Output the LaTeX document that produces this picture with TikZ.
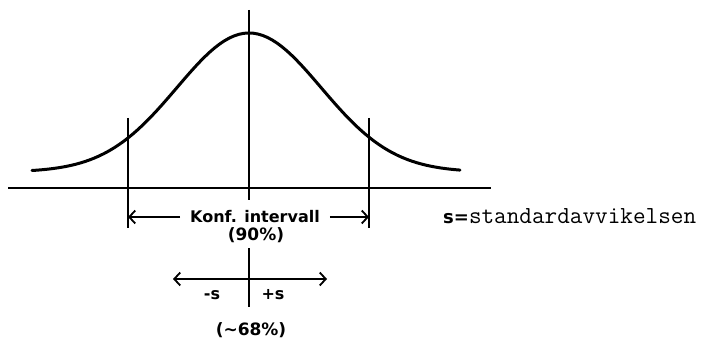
\documentclass[tikz,border=0pt]{standalone}
\usepackage{fontspec}
\setmainfont{DejaVu Sans}
\usetikzlibrary{arrows.meta}

\tikzset{
  lettering/.style={font=\fontsize{16}{18}\selectfont\bfseries, inner sep=1pt},
  axisline/.style={line width=1.8pt},
  curveline/.style={line width=3pt, line cap=round}
}

\begin{document}
\begin{tikzpicture}[x=1pt, y=-1pt, >={Straight Barb[length=6pt,width=13pt]}]
  \useasboundingbox (0,0) rectangle (701,339);

  % axis and markers
  \coordinate (axl) at (8,188);
  \coordinate (axr) at (491,188);
  \coordinate (ctop) at (249,10);
  \coordinate (cbot) at (249,200);
  \coordinate (ltop) at (128,118);
  \coordinate (lbot) at (128,228);
  \coordinate (rtop) at (369,118);
  \coordinate (rbot) at (369,228);
  \draw[axisline] (axl) -- (axr);
  \draw[axisline] (ctop) -- (cbot);
  \draw[axisline] (ltop) -- (lbot);
  \draw[axisline] (rtop) -- (rbot);

  % bell curve
  \draw[curveline, domain=32:460, samples=90]
    plot (\x, {172-139*exp(-((\x-249)/102)^2)});

  % confidence interval
  \node[lettering, inner xsep=10pt] (konf) at (255,217) {Konf. intervall};
  \node[lettering, font=\fontsize{17}{19}\selectfont\bfseries] (pct90) at (256,235) {(90\%)};
  \coordinate (kl) at (128,217);
  \coordinate (kr) at (369,217);
  \draw[axisline, ->] (konf.west) -- (kl);
  \draw[axisline, ->] (konf.east) -- (kr);

  % one standard deviation
  \coordinate (stop) at (249,248);
  \coordinate (sbot) at (249,307);
  \coordinate (sl) at (173,279);
  \coordinate (sr) at (327,279);
  \draw[axisline] (stop) -- (sbot);
  \draw[axisline, <->] (sl) -- (sr);
  \node[lettering] (minuss) at (212,295) {-s};
  \node[lettering] (pluss) at (273,295) {+s};
  \node[lettering, font=\fontsize{17}{19}\selectfont\bfseries] (pct68) at (251,330) {(\textasciitilde68\%)};

  % legend
  \node[anchor=west, inner sep=0pt] (legend) at (443,216)
    {\fontsize{18}{20}\selectfont\bfseries s=\fontsize{24.5}{27}\selectfont\mdseries\ttfamily standardavvikelsen};
\end{tikzpicture}
\end{document}
